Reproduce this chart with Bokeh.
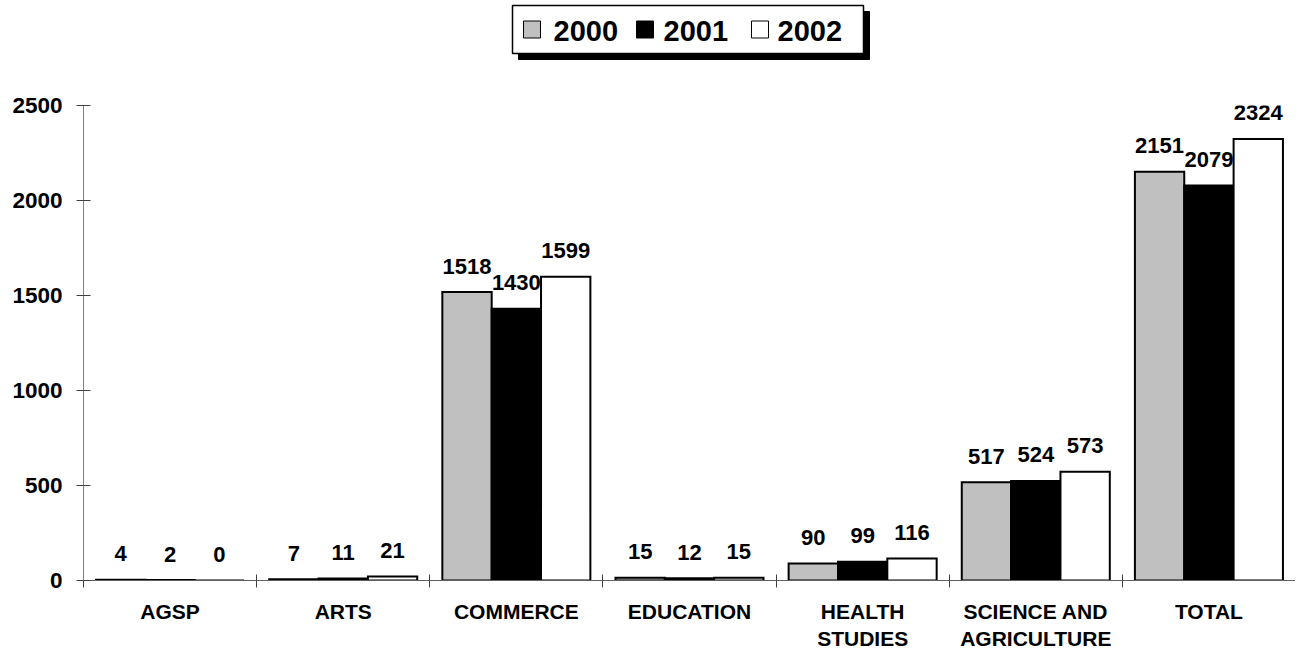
from bokeh.plotting import figure
from bokeh.models import Range1d, FixedTicker, ColumnDataSource
from bokeh.layouts import column
from bokeh.core.properties import value
from bokeh.embed import file_html
from bokeh.resources import INLINE

# ---- data ----
categories = ["AGSP", "ARTS", "COMMERCE", "EDUCATION", "HEALTH STUDIES",
              "SCIENCE AND AGRICULTURE", "TOTAL"]
category_labels = ["AGSP", "ARTS", "COMMERCE", "EDUCATION", "HEALTH\nSTUDIES",
                   "SCIENCE AND\nAGRICULTURE", "TOTAL"]
years = ["2000", "2001", "2002"]
v2000 = [4, 7, 1518, 15, 90, 517, 2151]
v2001 = [2, 11, 1430, 12, 99, 524, 2079]
v2002 = [0, 21, 1599, 15, 116, 573, 2324]
y_ticks = [0, 500, 1000, 1500, 2000, 2500]

# ---- style ----
FONT = "Liberation Sans"
fills = ["#C0C0C0", "#000000", "#FFFFFF"]
BW = 0.285
W = 1295
LEFT = 83

# ---- legend figure (coordinates in page pixels) ----
LH = 70
leg = figure(width=W, height=LH, x_range=Range1d(LEFT, W), y_range=Range1d(LH, 0),
             x_axis_type=None, y_axis_type=None, toolbar_location=None,
             output_backend="svg", min_border=0, min_border_left=LEFT,
             min_border_right=0, outline_line_color=None)
leg.xgrid.visible = False
leg.ygrid.visible = False
box_l, box_r, box_t, box_b = 512, 863, 5, 53
sh = 6
leg.quad(left=box_l + sh, right=box_r + sh, top=box_t + sh, bottom=box_b + sh,
         fill_color="black", line_color="black")
leg.quad(left=box_l, right=box_r, top=box_t, bottom=box_b,
         fill_color="white", line_color="black", line_width=1.5)
sq_x = [523, 636, 751]
tx_x = [553, 663, 777]
cy = 29
for k, yr in enumerate(years):
    leg.quad(left=sq_x[k], right=sq_x[k] + 17, top=cy - 8.5, bottom=cy + 8.5,
             fill_color=fills[k], line_color="black", line_width=1)
    leg.text(x=[tx_x[k]], y=[cy + 1], text=[yr], text_font=value(FONT),
             text_font_style="bold", text_font_size="29px",
             text_align="left", text_baseline="middle", text_color="black")

# ---- main figure ----
H = 583
p = figure(width=W, height=H, x_range=Range1d(0, len(categories)),
           y_range=Range1d(0, 2500), toolbar_location=None, output_backend="svg",
           min_border_left=LEFT, min_border_right=0, min_border_top=35,
           min_border_bottom=73, outline_line_color=None)
p.xgrid.visible = False
p.ygrid.visible = False

series = [v2000, v2001, v2002]
for k, vals in enumerate(series):
    xs = [i + 0.5 + (k - 1) * BW for i in range(len(categories))]
    src = ColumnDataSource(dict(x=xs, v=vals, label=[str(v) for v in vals]))
    p.vbar(x="x", top="v", bottom=0, width=BW, source=src,
           fill_color=fills[k], line_color="black", line_width=2,
           line_join="miter")
    p.text(x="x", y="v", text="label", source=src, y_offset=-26,
           text_font=value(FONT), text_font_style="bold", text_font_size="22px",
           text_align="center", text_baseline="middle", text_color="black")

# y axis
ya = p.yaxis[0]
ya.ticker = FixedTicker(ticks=y_ticks)
ya.major_tick_in = 7
ya.major_tick_out = 7
ya.minor_tick_in = 0
ya.minor_tick_out = 0
ya.axis_line_color = "#808080"
ya.major_tick_line_color = "#404040"
ya.major_label_text_font = FONT
ya.major_label_text_font_style = "bold"
ya.major_label_text_font_size = "22.5px"
ya.major_label_text_color = "black"
ya.major_label_standoff = 14

# x axis
xa = p.xaxis[0]
centers = [i + 0.5 for i in range(len(categories))]
xa.ticker = FixedTicker(ticks=centers, minor_ticks=list(range(len(categories) + 1)))
xa.major_label_overrides = {c: lab for c, lab in zip(centers, category_labels)}
xa.major_tick_in = 0
xa.major_tick_out = 0
xa.minor_tick_in = 6
xa.minor_tick_out = 7
xa.axis_line_color = "#606060"
xa.minor_tick_line_color = "#404040"
xa.major_label_text_font = FONT
xa.major_label_text_font_style = "bold"
xa.major_label_text_font_size = "21px"
xa.major_label_text_color = "black"
xa.major_label_standoff = 12

layout = column(leg, p, spacing=0)
open("out.html", "w").write(file_html(layout, INLINE))
